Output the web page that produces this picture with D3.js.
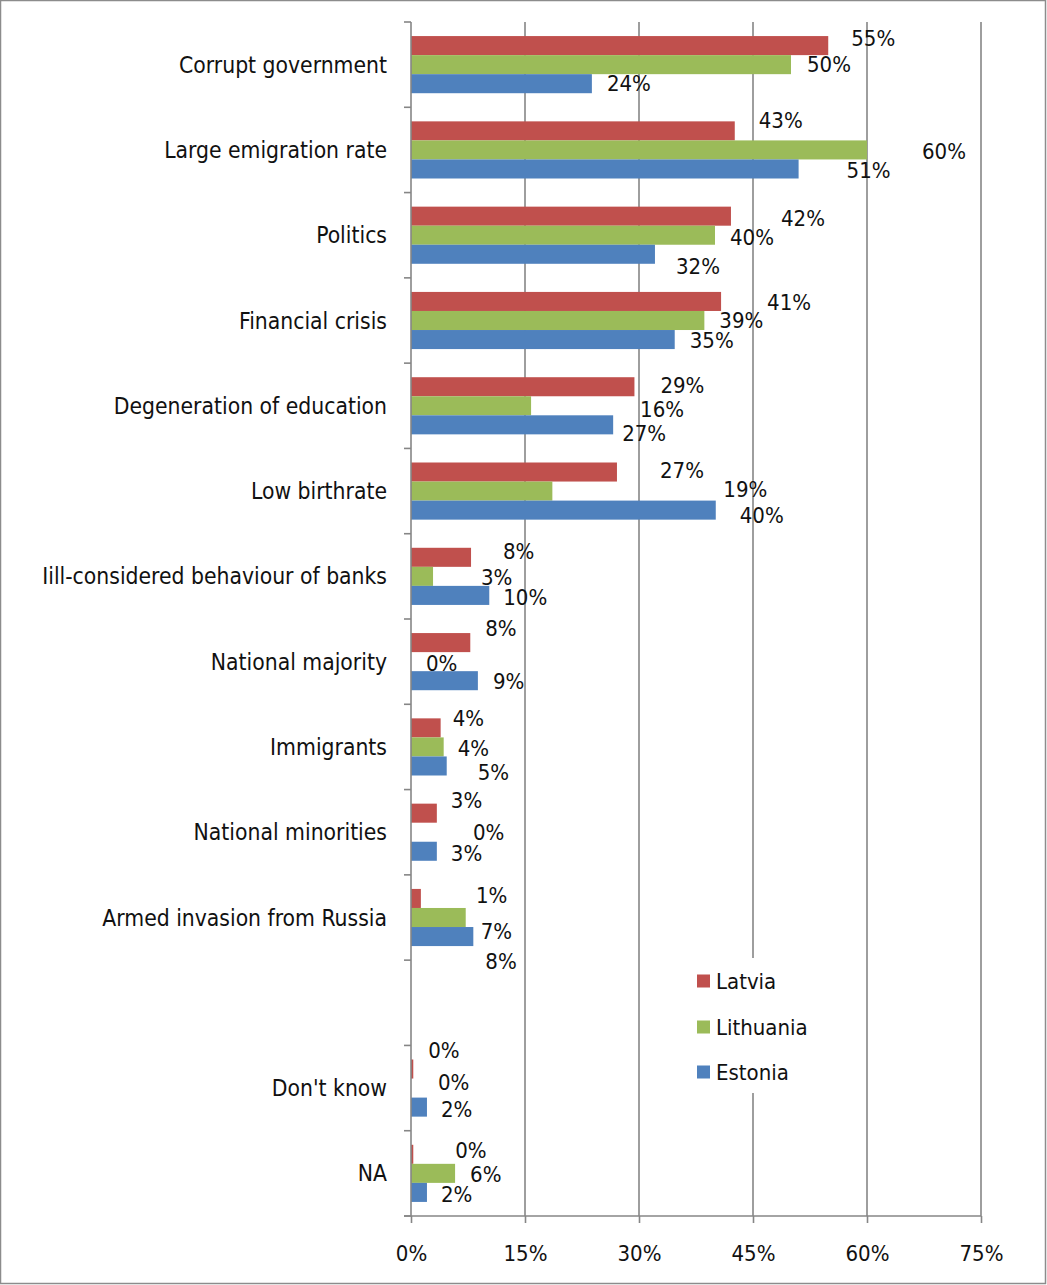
<!DOCTYPE html>
<html><head><meta charset="utf-8">
<script src="https://cdn.jsdelivr.net/npm/d3@7"></script>
<style>
body{margin:0;background:#fff;}
svg text{font-family:"Liberation Sans Narrow","DejaVu Sans Condensed",sans-serif;fill:#111;}
</style></head><body>
<svg id="chart" width="1047" height="1285"></svg>
<script>
const categories = ["Corrupt government","Large emigration rate","Politics","Financial crisis","Degeneration of education","Low birthrate","Iill-considered behaviour of banks","National majority","Immigrants","National minorities","Armed invasion from Russia","","Don't know","NA"];
const series = ["Latvia","Lithuania","Estonia"];
const latvia    = [54.9,42.6,42.1,40.8,29.4,27.1,7.9,7.8,3.9,3.4,1.3,null,0.3,0.3];
const lithuania = [50.0,60.0,40.0,38.6,15.8,18.6,2.9,0,4.3,0,7.2,null,0,5.8];
const estonia   = [23.8,51.0,32.1,34.7,26.6,40.1,10.3,8.8,4.7,3.4,8.2,null,2.1,2.1];
const xTicks = [0,15,30,45,60,75];
const colors = ["#C0504D","#9BBB59","#4F81BD"];
// label nudges [dx,dy] relative to bar end / bar centre (labels were hand-moved in the original)
const labelNudge = [
 [[23,-7],[16,0],[15,0]],
 [[24,-10],[55,2],[48,2]],
 [[50,2],[15,2],[21,12]],
 [[46,1],[15,0],[15,1]],
 [[26,-1],[109,4],[9,9]],
 [[43,-2],[171,-2],[24,5]],
 [[32,-6],[48,1],[14,2]],
 [[15,-14],[15,2],[15,1]],
 [[12,-9],[14,2],[31,7]],
 [[14,-13],[62,0],[14,2]],
 [[55,-3],[15,14],[12,25]],
 [[0,0],[0,0],[0,0]],
 [[15,-19],[27,-6],[14,2]],
 [[42,-4],[15,1],[14,2]]
];
const values = [latvia, lithuania, estonia];

const svg = d3.select("#chart");
svg.append("rect").attr("x",0.5).attr("y",0.5).attr("width",1045).attr("height",1283)
  .attr("fill","#fff").attr("stroke","#8c8c8c").attr("stroke-width",1.5);

const x = d3.scaleLinear().domain([0,75]).range([411,981]);
const y = d3.scaleBand().domain(categories.map((c,i)=>i)).range([22,1216]).padding(0);
const inner = d3.scaleBand().domain(series).range([0, y.bandwidth()*0.67]);
const groupOff = (y.bandwidth() - y.bandwidth()*0.67)/2;

// gridlines
svg.append("g").selectAll("line").data(xTicks.slice(1)).join("line")
  .attr("x1",d=>x(d)).attr("x2",d=>x(d)).attr("y1",22).attr("y2",1216)
  .attr("stroke","#868686").attr("stroke-width",1.6);

// bars
const rows = [];
categories.forEach((c,i)=>series.forEach((s,j)=>{
  const v = values[j][i];
  if(v!==null) rows.push({i,j,s,v});
}));
svg.append("g").selectAll("rect").data(rows).join("rect")
  .attr("x",x(0)).attr("width",d=>x(d.v)-x(0))
  .attr("y",d=>y(d.i)+groupOff+inner(d.s)).attr("height",inner.bandwidth())
  .attr("fill",d=>colors[d.j]);

// axes
const xAxis = svg.append("g").attr("transform","translate(0,1216)")
  .call(d3.axisBottom(x).tickValues(xTicks).tickFormat(d=>d+"%").tickSize(7).tickPadding(22));
xAxis.select(".domain").attr("stroke","#868686").attr("stroke-width",1.6).attr("d","M404,0H981");
xAxis.selectAll(".tick line").attr("stroke","#868686").attr("stroke-width",1.6);
xAxis.selectAll("text").attr("font-size",22).attr("fill","#111")
  .attr("font-family","\"Liberation Sans Narrow\",\"DejaVu Sans Condensed\",sans-serif");

const yAxis = svg.append("g").attr("transform","translate(411,0)");
yAxis.append("line").attr("x1",0).attr("x2",0).attr("y1",22).attr("y2",1216)
  .attr("stroke","#868686").attr("stroke-width",1.6);
const bounds = categories.map((c,i)=>y(i)).concat([1216]);
yAxis.selectAll("line.tk").data(bounds).join("line").attr("class","tk")
  .attr("x1",-7).attr("x2",0).attr("y1",d=>d).attr("y2",d=>d)
  .attr("stroke","#868686").attr("stroke-width",1.6);

// category labels
svg.append("g").selectAll("text").data(categories).join("text")
  .attr("x",387).attr("y",(d,i)=>y(i)+y.bandwidth()/2)
  .attr("text-anchor","end").attr("dominant-baseline","central")
  .attr("font-size",22.7).text(d=>d);

// data labels
svg.append("g").selectAll("text").data(rows).join("text")
  .attr("x",d=>x(d.v)+labelNudge[d.i][d.j][0])
  .attr("y",d=>y(d.i)+groupOff+inner(d.s)+inner.bandwidth()/2+labelNudge[d.i][d.j][1])
  .attr("dominant-baseline","central").attr("font-size",22)
  .text(d=>Math.round(d.v)+"%");

// legend
const lg = svg.append("g");
lg.append("rect").attr("x",688).attr("y",958).attr("width",112).attr("height",135).attr("fill","#fff");
const ly = [981,1027,1072];
series.forEach((s,j)=>{
  lg.append("rect").attr("x",697).attr("y",ly[j]-6.5).attr("width",13).attr("height",13).attr("fill",colors[j]);
  lg.append("text").attr("x",716).attr("y",ly[j]).attr("dominant-baseline","central")
    .attr("font-size",22).text(s);
});
</script>
</body></html>
